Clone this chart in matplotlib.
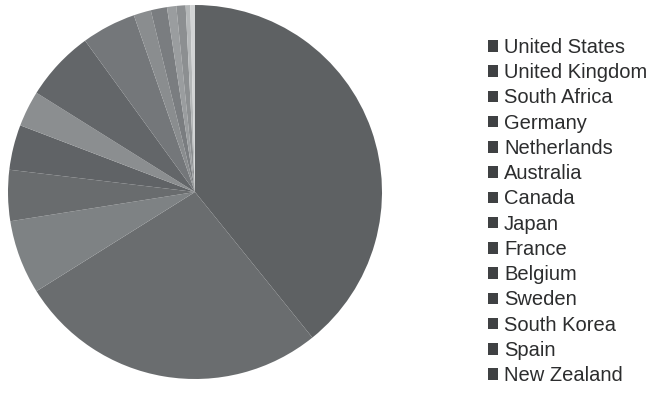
import matplotlib
matplotlib.use("Agg")
import matplotlib.pyplot as plt
from matplotlib.patches import Patch

countries = ["United States", "United Kingdom", "South Africa", "Germany",
             "Netherlands", "Australia", "Canada", "Japan", "France",
             "Belgium", "Sweden", "South Korea", "Spain", "New Zealand"]
share = [39.2, 26.9, 6.4, 4.4, 3.9, 3.1, 6.1, 4.7, 1.5, 1.4, 0.8, 0.8, 0.4, 0.4]

slice_grays = ["#5e6163", "#6a6d6f", "#7e8284", "#696c6e", "#606366",
               "#8b8e90", "#636669", "#74777a", "#8a8d8f", "#7a7d80",
               "#9a9d9f", "#8c8f91", "#b4b7b8", "#d2d4d5"]

fig = plt.figure(figsize=(6.58, 3.98), dpi=100)
fig.patch.set_facecolor("white")

W, H = 658, 398
cx, cy, r = 195, 192, 187
ax = fig.add_axes([(cx - r) / W, (H - cy - r) / H, 2 * r / W, 2 * r / H])
ax.pie(share, colors=slice_grays, startangle=90, counterclock=False,
       radius=1.0, wedgeprops=dict(linewidth=0))
ax.set_xlim(-1, 1)
ax.set_ylim(-1, 1)
ax.set_aspect("equal")
ax.axis("off")

handles = [Patch(facecolor="#3f4143", edgecolor="none") for _ in countries]
leg = fig.legend(handles, countries, loc="upper left",
                 bbox_to_anchor=(488 / W, 1 - 38 / H),
                 frameon=False, prop=dict(family="Liberation Sans", size=14.5),
                 handlelength=0.5, handleheight=0.5, handletextpad=0.3,
                 labelspacing=0.31, borderpad=0, borderaxespad=0)
for t in leg.get_texts():
    t.set_color("#2c2d2e")

fig.savefig("out.png", dpi=100, facecolor="white")
